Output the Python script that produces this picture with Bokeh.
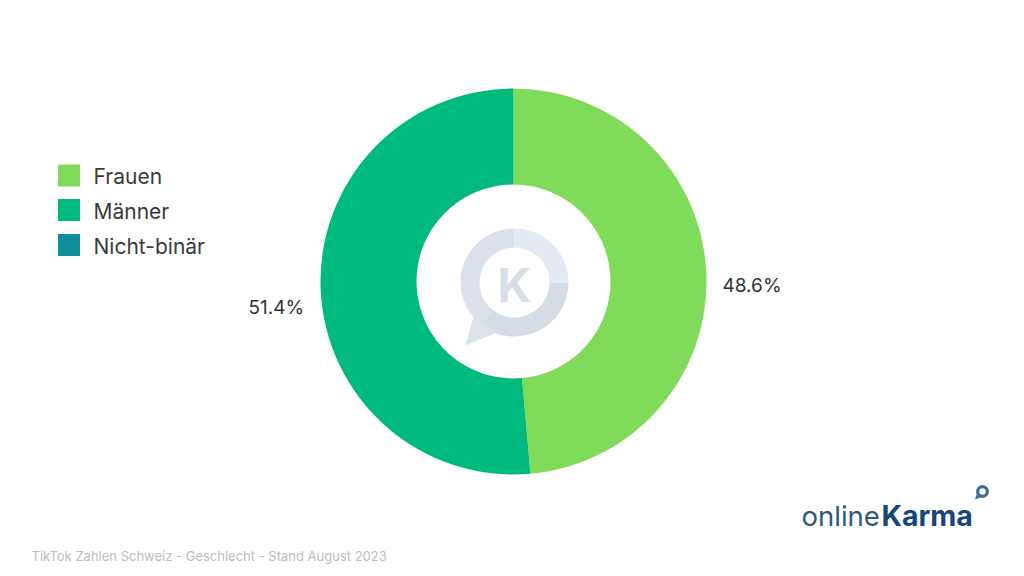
from math import pi
from bokeh.plotting import figure
from bokeh.models import Range1d, ColumnDataSource
from bokeh.core.properties import value
from bokeh.embed import file_html
from bokeh.resources import INLINE

categories = ["Frauen", "Männer", "Nicht-binär"]
shares = [48.6, 51.4, 0.0]
colors = ["#80DB5A", "#00B97E", "#0E8E98"]
share_labels = ["48.6%", "51.4%"]
footer_text = "TikTok Zahlen Schweiz - Geschlecht - Stand August 2023"

FONT = value("Inter")
H = 576
def Y(py):
    return H - py

p = figure(width=1008, height=568, output_backend="svg", toolbar_location=None,
           x_range=Range1d(0, 1008), y_range=Range1d(8, 576),
           min_border=0, outline_line_color=None, background_fill_color="white")
p.axis.visible = False
p.grid.visible = False

# donut, clockwise from 12 o'clock; a share of zero has no visible slice
total = sum(shares)
ends, starts, cols, acc = [], [], [], 0.0
for s, c in zip(shares, colors):
    if s > 0:
        starts.append(pi / 2 - 2 * pi * acc / total)
        ends.append(pi / 2 - 2 * pi * (acc + s) / total)
        cols.append(c)
    acc += s
src = ColumnDataSource(dict(start=ends, end=starts, color=cols))
p.annular_wedge(x=513, y=Y(281), inner_radius=97, outer_radius=193, start_angle="start",
                end_angle="end", color="color", line_color=None, source=src)

# watermark
wm_a = [pi / 2, 0, -3 * pi / 4 + 0.12, -3 * pi / 2]
wm_col = ["#E3EAF4", "#D4DDE6", "#DAE1EA"]
for i, c in enumerate(wm_col):
    p.annular_wedge(x=514, y=Y(282), inner_radius=35, outer_radius=54, start_angle=wm_a[i + 1],
                    end_angle=wm_a[i], color=c, line_color=None)
p.patch([473, 465, 496], [Y(316), Y(345), Y(332)], color="#DBE2EA", line_color=None)
p.text([514], [Y(284)], text=["K"], text_font=FONT, text_font_size="47px", text_font_style="bold",
       text_color="#D6DEE7", text_align="center", text_baseline="middle")

# legend
p.rect([68.5] * 3, [Y(175), Y(209.5), Y(244.5)], width=22, height=22, color=colors, line_color=None)
p.text([93] * 3, [Y(176), Y(211), Y(246)], text=categories, text_font=FONT, text_font_size="21px",
       text_color="#3A3A3A", text_align="left", text_baseline="middle")

# value labels
p.text([722, 248], [Y(285), Y(307)], text=share_labels, text_font=FONT, text_font_size="19px",
       text_color="#333333", text_align="left", text_baseline="middle")

# footer
p.text([31], [Y(555)], text=[footer_text], text_font=FONT, text_font_size="13px",
       text_color="#BDBDBD", text_align="left", text_baseline="middle")

# brand logo
p.text([801], [Y(515)], text=["online"], text_font=FONT, text_font_size="27.5px",
       text_color="#2C5A7E", text_align="left", text_baseline="alphabetic")
p.text([881], [Y(515)], text=["Karma"], text_font=FONT, text_font_size="28.5px", text_font_style="bold",
       text_color="#17477A", text_align="left", text_baseline="alphabetic")
p.annular_wedge(x=982, y=Y(491), inner_radius=3.2, outer_radius=6.5, start_angle=0, end_angle=2 * pi,
                color="#3E6F90", line_color=None)
p.patch([976, 974.5, 980], [Y(494), Y(499), Y(497)], color="#3E6F90", line_color=None)

open("out.html", "w").write(file_html(p, INLINE))
